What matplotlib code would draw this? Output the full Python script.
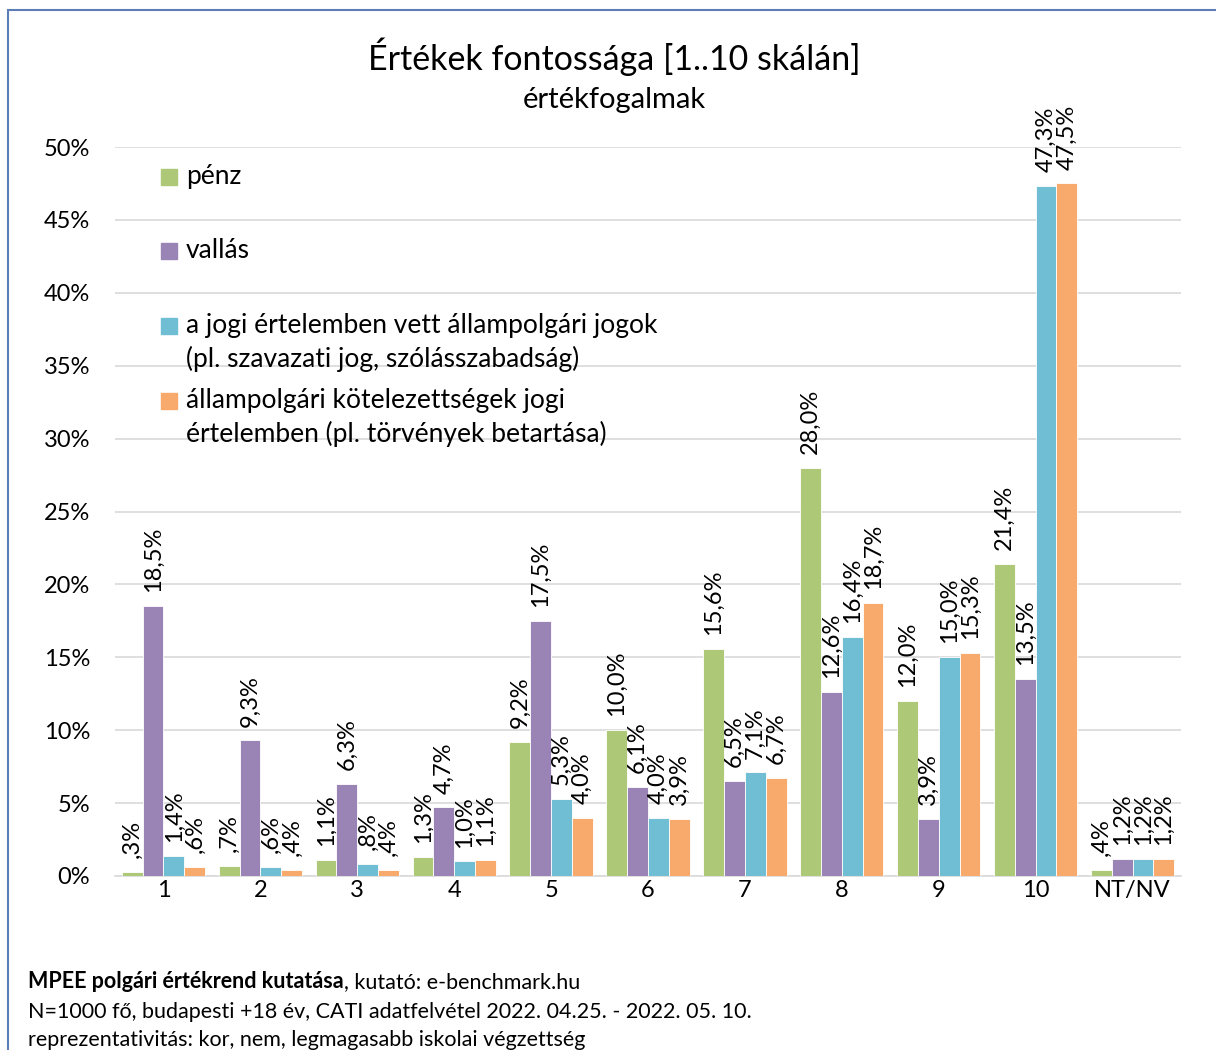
import numpy as np
import matplotlib
matplotlib.use("Agg")
import matplotlib.pyplot as plt
from matplotlib.patches import Rectangle

plt.rcParams['font.family'] = ['Lato', 'DejaVu Sans']

categories = ["1", "2", "3", "4", "5", "6", "7", "8", "9", "10", "NT/NV"]
penz = [0.3, 0.7, 1.1, 1.3, 9.2, 10.0, 15.6, 28.0, 12.0, 21.4, 0.4]
vallas = [18.5, 9.3, 6.3, 4.7, 17.5, 6.1, 6.5, 12.6, 3.9, 13.5, 1.2]
jogok = [1.4, 0.6, 0.8, 1.0, 5.3, 4.0, 7.1, 16.4, 15.0, 47.3, 1.2]
kotelezettseg = [0.6, 0.4, 0.4, 1.1, 4.0, 3.9, 6.7, 18.7, 15.3, 47.5, 1.2]

series_names = ["pénz", "vallás",
                "a jogi értelemben vett állampolgári jogok\n(pl. szavazati jog, szólásszabadság)",
                "állampolgári kötelezettségek jogi\nértelemben (pl. törvények betartása)"]
colors = ["#ADC978", "#9A84B6", "#70BED3", "#F8AA6C"]
yticks = [0, 5, 10, 15, 20, 25, 30, 35, 40, 45, 50]


def fmt(v):
    s = f"{v:.1f}".replace(".", ",")
    if s.startswith("0"):
        s = s[1:]
    return s + "%"


W, H = 1216, 1050
fig = plt.figure(figsize=(W / 100, H / 100), dpi=100)
ax = fig.add_axes([115 / W, 1 - 876 / H, 1066 / W, 729 / H])

x = np.arange(len(categories))
width = 0.215
all_series = [penz, vallas, jogok, kotelezettseg]
for i, (vals, col) in enumerate(zip(all_series, colors)):
    pos = x + (i - 1.5) * width
    bars = ax.bar(pos, vals, width=width, color=col, edgecolor="white", linewidth=0.6, zorder=3)
    for b, v in zip(bars, vals):
        ax.annotate(fmt(v), (b.get_x() + b.get_width() / 2, v), xytext=(0, 10),
                    textcoords="offset points", rotation=90, ha="center", va="bottom",
                    fontsize=17, color="#000000", annotation_clip=False)

ax.set_xlim(-0.5, len(categories) - 0.5)
ax.set_ylim(0, 50)
ax.set_yticks(yticks)
ax.set_yticklabels([f"{t}%" for t in yticks], fontsize=17)
ax.set_xticks(x)
ax.set_xticklabels(categories, fontsize=17)
ax.tick_params(length=0)
ax.tick_params(axis="x", pad=3)
ax.tick_params(axis="y", pad=18)
ax.grid(axis="y", color="#D9D9D9", linewidth=1.2, zorder=0)
for s in ["top", "right", "left"]:
    ax.spines[s].set_visible(False)
ax.spines["bottom"].set_color("#D9D9D9")
ax.spines["bottom"].set_linewidth(1.2)

# legend, drawn by hand so each entry sits on its own slot
leg_y = [177, 251, 326, 401]
for name, col, yy in zip(series_names, colors, leg_y):
    fig.patches.append(Rectangle((161 / W, 1 - (yy + 8) / H), 16 / W, 16 / H,
                                 transform=fig.transFigure, color=col))
    fig.text(186 / W, 1 - (yy - 13) / H, name, fontsize=19, va="top", ha="left",
             linespacing=1.36)

fig.text(614 / W, 1 - 57 / H, "Értékek fontossága [1..10 skálán]", fontsize=24.5,
         ha="center", va="center")
fig.text(614 / W, 1 - 100 / H, "értékfogalmak", fontsize=21, ha="center", va="center")

# footer
t1 = fig.text(28 / W, 1 - 982 / H, "MPEE polgári értékrend kutatása", fontsize=15.5,
              fontweight="bold", va="center")
fig.canvas.draw()
bb = t1.get_window_extent()
fig.text(bb.x1 / W, 1 - 982 / H, ", kutató: e-benchmark.hu", fontsize=15.5, va="center")
fig.text(28 / W, 1 - 1012 / H,
         "N=1000 fő, budapesti +18 év, CATI adatfelvétel 2022. 04.25. - 2022. 05. 10.",
         fontsize=15.5, va="center")
fig.text(28 / W, 1 - 1040 / H,
         "reprezentativitás: kor, nem, legmagasabb iskolai végzettség",
         fontsize=15.5, va="center")

# outer frame
fig.patches.append(Rectangle((8 / W, -0.05), 1.1, 1 - 10 / H + 0.05, transform=fig.transFigure,
                             fill=False, edgecolor="#5B7DB8", linewidth=1.5))

fig.savefig("out.png", dpi=100)
